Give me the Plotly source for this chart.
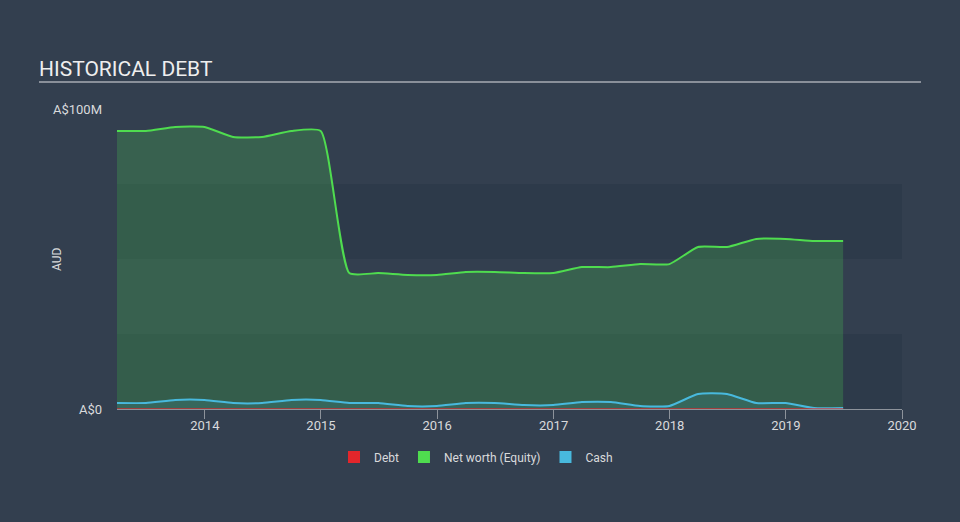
import plotly.graph_objects as go

dates = ["2013-03-31", "2013-06-30", "2013-09-30", "2013-12-31",
         "2014-03-31", "2014-06-30", "2014-09-30", "2014-12-31",
         "2015-03-31", "2015-06-30", "2015-09-30", "2015-12-31",
         "2016-03-31", "2016-06-30", "2016-09-30", "2016-12-31",
         "2017-03-31", "2017-06-30", "2017-09-30", "2017-12-31",
         "2018-03-31", "2018-06-30", "2018-09-30", "2018-12-31",
         "2019-03-31", "2019-06-30"]
net_worth = [92.7, 92.7, 94.0, 94.0, 90.7, 90.7, 92.7, 92.7,
             45.3, 45.3, 44.7, 44.7, 45.7, 45.7, 45.3, 45.3,
             47.3, 47.3, 48.3, 48.3, 54.0, 54.0, 56.7, 56.7,
             56.0, 56.0]
cash = [2.0, 2.0, 3.0, 3.0, 2.0, 2.0, 3.0, 3.0,
        2.0, 2.0, 1.0, 1.0, 2.0, 2.0, 1.3, 1.3,
        2.3, 2.3, 1.0, 1.0, 5.0, 5.0, 2.0, 2.0,
        0.3, 0.3]
debt = [0.0] * len(dates)
y_tick_vals = [0, 100]
y_tick_text = ["A$0", "A$100M"]
x_tick_vals = ["2014-01-01", "2015-01-01", "2016-01-01", "2017-01-01",
               "2018-01-01", "2019-01-01", "2020-01-01"]
x_tick_text = ["2014", "2015", "2016", "2017", "2018", "2019", "2020"]
band_ranges = [(0, 25), (50, 75)]

BG = "#333f4f"
BAND = "#2d3a4a"
GREEN = "#4fdc4f"
BLUE = "#48b9dd"
RED = "#e3262b"
TXT = "#d9dadc"

fig = go.Figure()

fig.add_trace(go.Scatter(x=dates, y=net_worth, mode="lines",
                         line=dict(color=GREEN, width=2, shape="spline", smoothing=0.5),
                         fill="tozeroy", fillcolor="rgba(76,220,80,0.22)",
                         showlegend=False, hoverinfo="skip"))
fig.add_trace(go.Scatter(x=dates, y=cash, mode="lines",
                         line=dict(color=BLUE, width=2, shape="spline", smoothing=0.5),
                         fill="tozeroy", fillcolor="rgba(72,185,221,0.12)",
                         showlegend=False, hoverinfo="skip"))
fig.add_trace(go.Scatter(x=dates, y=debt, mode="lines",
                         line=dict(color=RED, width=2),
                         showlegend=False, hoverinfo="skip", opacity=0.6))

# legend entries
for name, col in [("Debt", RED), ("Net worth (Equity)", GREEN), ("Cash", BLUE)]:
    fig.add_trace(go.Bar(x=[None], y=[None], name=name, marker=dict(color=col, line=dict(width=0))))

shapes = []
for lo, hi in band_ranges:
    shapes.append(dict(type="rect", xref="paper", yref="y", x0=0, x1=1, y0=lo, y1=hi,
                       fillcolor=BAND, line=dict(width=0), layer="below"))
shapes.append(dict(type="line", xref="paper", yref="paper",
                   x0=(39 - 117) / 785, x1=(921 - 117) / 785, y0=(409 - 82) / 300, y1=(409 - 82) / 300,
                   line=dict(color="#a9adb3", width=1.5)))

fig.update_layout(
    width=960, height=522,
    paper_bgcolor=BG, plot_bgcolor=BG,
    margin=dict(l=117, r=58, t=109, b=113),
    font=dict(family="Roboto, sans-serif", color=TXT, size=12),
    title=dict(text="HISTORICAL DEBT", x=39 / 960, xanchor="left", xref="container",
               y=1 - 69 / 522, yanchor="middle", yref="container",
               font=dict(size=21, color="#eeeeee", family="Roboto, sans-serif")),
    shapes=shapes,
    annotations=[dict(text="AUD", xref="paper", yref="paper", x=(57 - 117) / 785, y=0.5,
                      textangle=-90, showarrow=False, xanchor="center", yanchor="middle",
                      font=dict(size=12, color=TXT))],
    showlegend=True,
    legend=dict(orientation="h", x=(476 - 117) / 785, xanchor="center",
                y=(409 - 457) / 300, yanchor="middle",
                font=dict(size=12, color=TXT), bgcolor="rgba(0,0,0,0)",
                itemwidth=30, tracegroupgap=0),
    xaxis=dict(type="date", range=["2013-03-31", "2020-01-01"],
               tickvals=x_tick_vals, ticktext=x_tick_text,
               showgrid=False, zeroline=False,
               showline=True, linecolor="#8d939b", linewidth=1,
               ticks="outside", ticklen=9, tickcolor="#8d939b", tickwidth=1,
               ticklabelstandoff=-5,
               tickfont=dict(size=13, color=TXT)),
    yaxis=dict(range=[0, 100], tickvals=y_tick_vals, ticktext=y_tick_text,
               showgrid=False, zeroline=False, showline=False,
               ticks="", ticklabelstandoff=14,
               tickfont=dict(size=13, color=TXT)),
    bargap=0,
)

fig.write_html("out.html")
